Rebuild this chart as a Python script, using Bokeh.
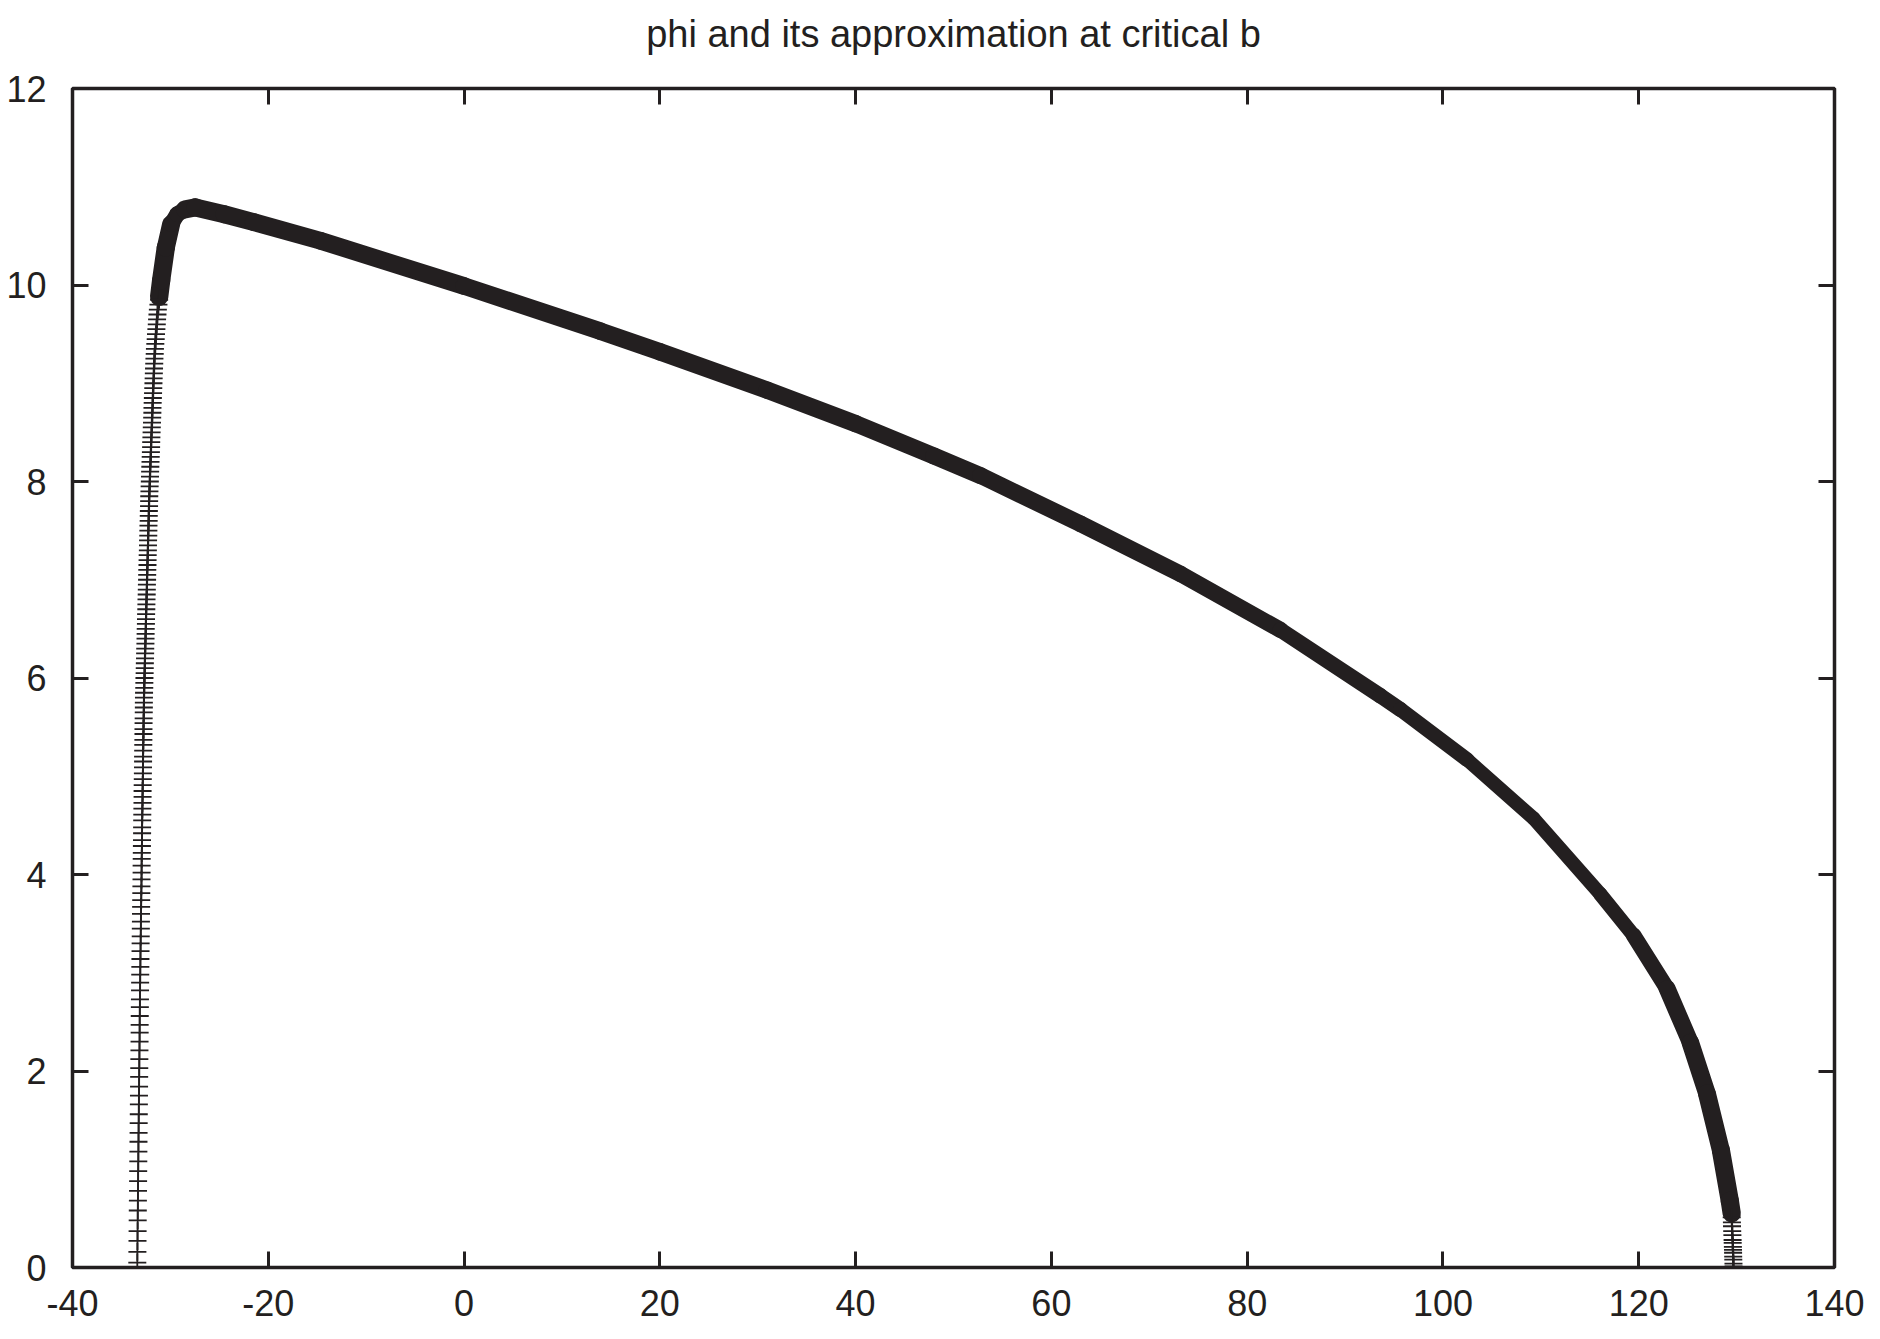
import math
from bokeh.plotting import figure
from bokeh.models import LinearAxis, FixedTicker, Range1d
from bokeh.embed import file_html
from bokeh.resources import INLINE

TITLE = "phi and its approximation at critical b"
x_ticks = [-40, -20, 0, 20, 40, 60, 80, 100, 120, 140]
x_tick_labels = ["-40", "-20", "0", "20", "40", "60", "80", "100", "120", "140"]
y_ticks = [0, 2, 4, 6, 8, 10, 12]
y_tick_labels = ["0", "2", "4", "6", "8", "10", "12"]

# left, nearly vertical branch: individual "+" points
left_y = [0.05, 0.16, 0.27, 0.37, 0.48, 0.58, 0.68, 0.78, 0.88, 0.98, 1.08, 1.18, 1.28, 1.37, 1.47,
          1.56, 1.66, 1.75, 1.84, 1.94, 2.03, 2.12, 2.21, 2.30, 2.39, 2.47, 2.56, 2.65, 2.73, 2.82, 2.90,
          2.98, 3.06, 3.14, 3.22, 3.30, 3.37, 3.45, 3.52, 3.60, 3.67, 3.74, 3.81, 3.88, 3.95, 4.02,
          4.09, 4.16, 4.22, 4.29, 4.35, 4.42, 4.48, 4.55, 4.61, 4.67, 4.73, 4.79, 4.85, 4.91, 4.97,
          5.03, 5.09, 5.15, 5.20, 5.26, 5.32, 5.37, 5.43, 5.48, 5.54, 5.59, 5.65, 5.70, 5.75, 5.80,
          5.85, 5.90, 5.95, 6.00, 6.05, 6.10, 6.15, 6.20, 6.25, 6.30, 6.35, 6.40, 6.45, 6.50, 6.55,
          6.60, 6.65, 6.70, 6.75, 6.80, 6.85, 6.90, 6.95, 7.00, 7.05, 7.10, 7.15, 7.20, 7.25, 7.30,
          7.35, 7.40, 7.45, 7.50, 7.55, 7.60, 7.65, 7.70, 7.75, 7.80, 7.85, 7.90, 7.95, 8.00, 8.05,
          8.10, 8.15, 8.20, 8.25, 8.30, 8.35, 8.40, 8.45, 8.50, 8.55, 8.60, 8.65, 8.70, 8.75, 8.80,
          8.85, 8.90, 8.95, 9.00, 9.05, 9.10, 9.15, 9.20, 9.25, 9.30, 9.35, 9.40, 9.45, 9.50, 9.55,
          9.60, 9.65, 9.70, 9.75, 9.80, 9.85]
left_x = [-33.38, -33.37, -33.36, -33.35, -33.34, -33.33, -33.32, -33.31, -33.30, -33.29, -33.28,
          -33.27, -33.26, -33.25, -33.24, -33.23, -33.22, -33.21, -33.20, -33.19, -33.18, -33.17,
          -33.16, -33.15, -33.14, -33.14, -33.13, -33.12, -33.11, -33.10, -33.09,
          -33.08, -33.07, -33.06, -33.05, -33.04, -33.03, -33.02, -33.01, -33.00, -32.99, -32.98,
          -32.97, -32.96, -32.95, -32.94, -32.94, -32.93, -32.92, -32.91, -32.90, -32.89, -32.89,
          -32.88, -32.87, -32.86, -32.85, -32.84, -32.84, -32.83, -32.82, -32.81, -32.80, -32.79,
          -32.79, -32.78, -32.77, -32.76, -32.75, -32.75, -32.74, -32.73, -32.72, -32.71, -32.71,
          -32.70,
          -32.69, -32.67, -32.66, -32.65, -32.63, -32.62, -32.61, -32.59, -32.58, -32.57, -32.55,
          -32.54, -32.53, -32.52, -32.50, -32.49, -32.48, -32.46, -32.45, -32.44, -32.42, -32.41,
          -32.40, -32.38, -32.37, -32.36, -32.34, -32.33, -32.32, -32.30, -32.29, -32.28, -32.26,
          -32.25, -32.24, -32.22, -32.21, -32.20, -32.18, -32.17, -32.16, -32.14, -32.12, -32.10,
          -32.08, -32.07, -32.05, -32.03, -32.01, -31.99, -31.97, -31.96, -31.94, -31.92, -31.90,
          -31.88, -31.86, -31.84, -31.83, -31.81, -31.79, -31.77, -31.75, -31.73, -31.71, -31.69,
          -31.67, -31.65, -31.63, -31.60, -31.58, -31.54, -31.50, -31.47, -31.43, -31.39, -31.36,
          -31.32, -31.28, -31.22, -31.15]

# main part, where the points merge into a solid band
band_x = [-31.15, -30.94, -30.47, -29.92, -29.30, -28.50, -27.44, -24.50, -21.48, -14.67, 0.0,
          13.93, 20.0, 30.96, 40.0, 47.98, 52.75, 62.96, 73.18, 83.39, 93.60, 95.65, 102.46,
          109.27, 116.08, 119.48, 122.89, 125.27, 126.97, 128.40, 129.30, 129.50]
band_y = [9.88, 10.05, 10.38, 10.62, 10.72, 10.77, 10.79, 10.72, 10.64, 10.45, 9.99,
          9.53, 9.32, 8.93, 8.59, 8.26, 8.06, 7.57, 7.06, 6.49, 5.82, 5.68, 5.17,
          4.57, 3.80, 3.38, 2.84, 2.29, 1.77, 1.19, 0.68, 0.55]

# right end, individual "+" points again
right_y = [0.51, 0.46, 0.42, 0.37, 0.33, 0.28, 0.25, 0.21, 0.18, 0.15, 0.11, 0.08, 0.04, 0.01]
right_x = [129.50, 129.52, 129.53, 129.55, 129.57, 129.59, 129.60, 129.62, 129.63, 129.64,
           129.65, 129.66, 129.68, 129.69]

INK = "#231f20"
FONT = "Liberation Sans"
FW, FH = 1762, 1179
XMIN, XMAX, YMIN, YMAX = -40, 140, 0, 12

p = figure(frame_width=FW, frame_height=FH, title=None,
           x_range=Range1d(XMIN, XMAX), y_range=Range1d(YMIN, YMAX),
           output_backend="svg", toolbar_location=None,
           x_axis_location=None, y_axis_location=None,
           min_border_left=72, min_border_right=46, min_border_top=88, min_border_bottom=72,
           background_fill_color="white", border_fill_color="white")
p.grid.visible = False
p.outline_line_color = INK
p.outline_line_width = 3.5

def make_axis(ticks, labels, show_labels, standoff):
    ax = LinearAxis(ticker=FixedTicker(ticks=ticks))
    ax.axis_line_color = None
    ax.major_tick_in = 16
    ax.major_tick_out = 0
    ax.major_tick_line_width = 3
    ax.major_tick_line_color = INK
    ax.minor_tick_line_color = None
    ax.major_label_text_font = FONT
    ax.major_label_text_color = INK
    ax.major_label_standoff = standoff
    ax.major_label_overrides = {t: s for t, s in zip(ticks, labels)}
    if show_labels:
        ax.major_label_text_font_size = "36px"
    else:
        ax.major_label_text_font_size = "0px"
        ax.major_label_text_alpha = 0
    return ax

p.add_layout(make_axis(x_ticks, x_tick_labels, True, 22), "below")
p.add_layout(make_axis(y_ticks, y_tick_labels, True, 26), "left")
top_axis = make_axis(x_ticks, x_tick_labels, False, 0)
# the chart title sits on the top axis, centred over the frame
top_axis.axis_label = TITLE
top_axis.axis_label_text_font = FONT
top_axis.axis_label_text_font_size = "38px"
top_axis.axis_label_text_font_style = "normal"
top_axis.axis_label_text_color = INK
top_axis.axis_label_standoff = 34
p.add_layout(top_axis, "above")
p.add_layout(make_axis(y_ticks, y_tick_labels, False, 0), "right")

# solid band: per-segment width mimics overlapping 18px '+' marks
sx = FW / (XMAX - XMIN)
sy = FH / (YMAX - YMIN)
x0, y0, x1, y1, ws = [], [], [], [], []
for i in range(len(band_x) - 1):
    dxp = (band_x[i + 1] - band_x[i]) * sx
    dyp = (band_y[i + 1] - band_y[i]) * sy
    m = abs(dyp / dxp) if dxp != 0 else 1e6
    w = 18.5 * max(1.0, m) / math.sqrt(1 + m * m)
    x0.append(band_x[i]); y0.append(band_y[i])
    x1.append(band_x[i + 1]); y1.append(band_y[i + 1])
    ws.append(w)
p.segment(x0, y0, x1, y1, line_width=ws, line_color=INK, line_cap="round")

p.scatter(left_x, left_y, marker="cross", size=18, line_width=1.8, line_color=INK)
p.scatter(right_x, right_y, marker="cross", size=18, line_width=1.8, line_color=INK)

open("out.html", "w").write(file_html(p, INLINE))
